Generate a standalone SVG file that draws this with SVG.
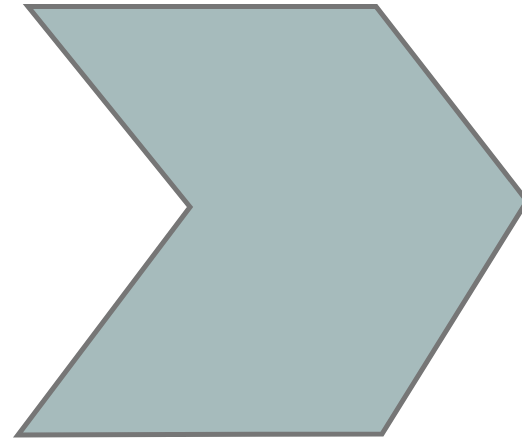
<svg xmlns="http://www.w3.org/2000/svg" width="522" height="442" viewBox="0 0 522 442">
<style>.shape{fill:#a6bbbc;stroke:#767676;stroke-width:5;stroke-linejoin:miter}</style>
<g id="chevron">
<polygon class="shape" points="28,6.5 376,6.5 527,201 382,434 18,435 190,207"/>
</g>
</svg>
